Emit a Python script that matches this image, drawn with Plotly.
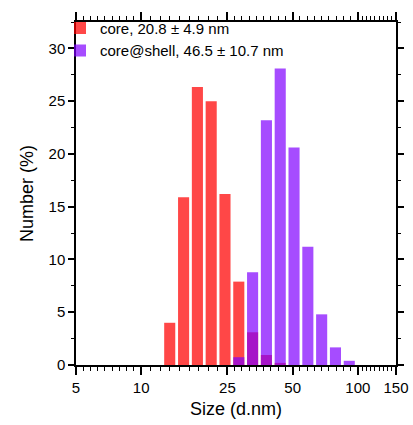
import numpy as np
import plotly.graph_objects as go

# Size classes (d.nm) and number distributions (%)
core_sizes = [13.54, 15.69, 18.17, 21.04, 24.36, 28.21, 32.67, 37.84, 43.82]
core_values = [4.0, 15.9, 26.35, 25.0, 16.2, 7.9, 3.1, 0.95, 0.2]

shell_sizes = [28.21, 32.67, 37.84, 43.82, 50.75, 58.77, 68.06, 78.82, 91.28]
shell_values = [0.74, 8.8, 23.2, 28.1, 20.6, 11.2, 4.8, 1.67, 0.4]

core_label = "core, 20.8 \u00b1 4.9 nm"
shell_label = "core@shell, 46.5 \u00b1 10.7 nm"

x_tickvals = [5, 10, 25, 50, 100, 150]
x_ticktext = ["5", "10", "25", "50", "100", "150"]

# 8 minor ticks, evenly spaced in log space, between successive major ticks
minor_vals = []
for a, b in zip(x_tickvals[:-1], x_tickvals[1:]):
    for k in range(1, 9):
        minor_vals.append(a * (b / a) ** (k / 9))

# bar extents: 80% of each log-spaced size class
ratio = core_sizes[1] / core_sizes[0]
frac = 0.4


def extents(xs):
    xs = np.array(xs)
    left = xs / ratio ** frac
    right = xs * ratio ** frac
    return list(left - xs), list(right - left)


font = "Liberation Sans, Arial, sans-serif"

c_off, c_w = extents(core_sizes)
s_off, s_w = extents(shell_sizes)

fig = go.Figure()
fig.add_trace(go.Bar(x=core_sizes, y=core_values, name=core_label,
                     offset=c_off, width=c_w,
                     marker=dict(color="rgba(255,0,0,0.72)", line=dict(width=0))))
fig.add_trace(go.Bar(x=shell_sizes, y=shell_values, name=shell_label,
                     offset=s_off, width=s_w,
                     marker=dict(color="rgba(128,0,255,0.70)", line=dict(width=0))))

fig.update_layout(
    template="none",
    width=413, height=425,
    margin=dict(l=76, r=17, t=14, b=60),
    barmode="overlay",
    plot_bgcolor="white", paper_bgcolor="white",
    font=dict(family=font, size=15, color="black"),
    showlegend=True,
    legend=dict(x=-0.05, y=1.03, xanchor="left", yanchor="top",
                bgcolor="rgba(255,255,255,0)", borderwidth=0,
                font=dict(size=15, family=font),
                itemwidth=30, tracegroupgap=0),
)
fig.update_xaxes(
    type="log", range=[np.log10(5), np.log10(150)], automargin=False,
    tickmode="array", tickvals=x_tickvals, ticktext=x_ticktext,
    ticks="outside", ticklen=8, tickwidth=1.5, tickcolor="black",
    minor=dict(tickmode="array", tickvals=minor_vals, ticks="outside",
               ticklen=4, tickwidth=1.2, tickcolor="black", showgrid=False),
    showline=True, linecolor="black", linewidth=1.5, mirror="all",
    showgrid=False, zeroline=False,
    title=dict(text="Size (d.nm)", font=dict(size=18, family=font), standoff=8),
    tickfont=dict(size=15, family=font),
)
fig.update_yaxes(
    range=[0, 32.5], tickmode="linear", tick0=0, dtick=5, automargin=False,
    ticks="outside", ticklen=6, tickwidth=1.5, tickcolor="black",
    minor=dict(dtick=2.5, ticks="outside", ticklen=3, tickwidth=1.2,
               tickcolor="black", showgrid=False),
    showline=True, linecolor="black", linewidth=1.5, mirror="all",
    showgrid=False, zeroline=False,
    title=dict(text="Number (%)", font=dict(size=18, family=font), standoff=10),
    tickfont=dict(size=15, family=font),
)

fig.write_html("out.html", config={"displayModeBar": False},
               post_script="document.body.style.margin='0';document.body.style.overflow='hidden';")
